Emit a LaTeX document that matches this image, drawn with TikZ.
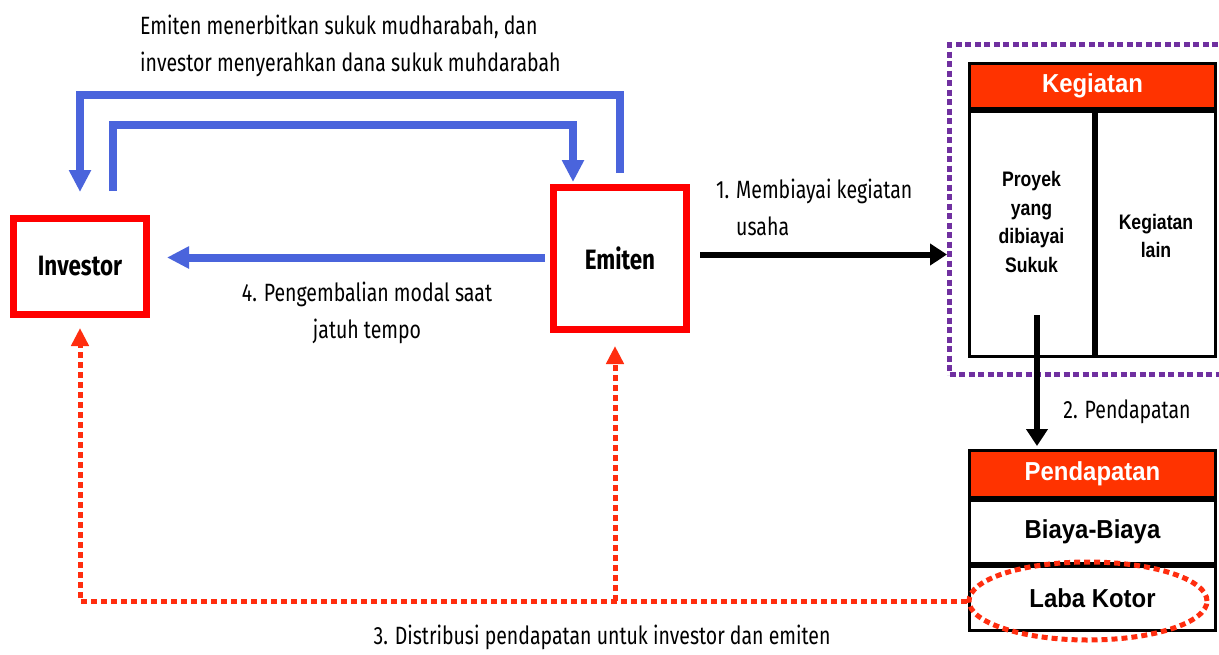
\documentclass[tikz,border=0pt]{standalone}
\usepackage{fontspec}
\setmainfont{Fira Sans}
\newfontfamily\labfont[FakeStretch=0.78]{Fira Sans}
\newfontfamily\actfont[FakeStretch=0.8]{Fira Sans}
\newfontfamily\tabfont[FakeStretch=0.92]{Liberation Sans}
\newfontfamily\celfont[FakeStretch=0.84]{Liberation Sans}
\usetikzlibrary{arrows.meta,shapes.geometric,calc}
\definecolor{bl}{RGB}{74,100,220}
\definecolor{rd}{RGB}{255,0,0}
\definecolor{hd}{RGB}{255,51,0}
\definecolor{rdot}{RGB}{255,45,15}
\definecolor{pu}{RGB}{112,48,160}
\begin{document}
\begin{tikzpicture}[x=1pt,y=-1pt,
  actor/.style={draw=rd,line width=7pt,fill=white,inner sep=0pt,
    font=\actfont\bfseries\fontsize{28}{32}\selectfont},
  lab/.style={inner sep=0pt,font=\labfont\fontsize{25}{37}\selectfont},
  bluearrow/.style={draw=bl,line width=8pt,-{Triangle[width=21pt,length=22pt]}},
  blackarrow/.style={draw=black,line width=6pt,-{Triangle[width=21pt,length=17pt]}},
  reddot/.style={draw=rdot,line width=5pt,dash pattern=on 6pt off 4pt},
  reddotarrow/.style={reddot,-{Triangle[width=17pt,length=18pt]}},
  cell/.style={draw=black,line width=3pt,fill=white,inner sep=0pt},
  head/.style={cell,fill=hd,text=white,font=\tabfont\bfseries\fontsize{26}{30}\selectfont},
  rowtext/.style={inner sep=0pt,font=\tabfont\bfseries\fontsize{26}{30}\selectfont},
  celltext/.style={inner sep=0pt,align=center,font=\celfont\bfseries\fontsize{21}{28.5}\selectfont}]
\useasboundingbox[fill=white] (0,0) rectangle (1219,654);

% actors
\node[actor,minimum width=133pt,minimum height=96pt] (inv) at (80,266.5) {Investor};
\node[actor,minimum width=133pt,minimum height=142pt] (emi) at (620,258.5) {Emiten};

% top label
\node[lab,align=left,anchor=west] (ltop) at (140,45.5)
  {Emiten menerbitkan sukuk mudharabah, dan\\investor menyerahkan dana sukuk muhdarabah};

% blue connectors
\draw[bluearrow] ([yshift=11pt]emi.north) -- ++(0,-78) -| ([yshift=23pt]inv.north);
\draw[bluearrow] ([xshift=33pt,yshift=24pt]inv.north) -- ++(0,-66) -| ([xshift=-47pt,yshift=2pt]emi.north);
\draw[bluearrow] ([xshift=-5pt,yshift=1pt]emi.west) -- ([xshift=17pt,yshift=1pt]emi.west -| inv.east);
\node[lab,align=center] (l4) at (367,313) {4. Pengembalian modal saat\\jatuh tempo};

% purple dotted frame
\node[draw=pu,line width=5pt,dash pattern=on 6pt off 3.5pt,minimum width=278pt,minimum height=330pt,inner sep=0pt] (pbox) at (1088.5,209.5) {};

% Kegiatan table
\node[head,minimum width=246pt,minimum height=45pt] (kh) at (1092.5,86) {Kegiatan};
\node[cell,minimum width=124pt,minimum height=245pt] (k1) at (1031.5,234) {};
\node[cell,minimum width=119pt,minimum height=245pt] (k2) at (1156,234) {};
\node[celltext] (k1t) at ([yshift=12pt]k1.center) {Proyek\\yang\\dibiayai\\Sukuk};
\node[celltext] (k2t) at ([yshift=-2pt]k2.center) {Kegiatan\\lain};

% black arrow 1
\draw[blackarrow] ([xshift=10pt,yshift=4pt]emi.east) -- ([yshift=4pt]emi.east -| pbox.west);
\node[lab,align=left,anchor=west] (l1) at (716,207) {1. Membiayai kegiatan\\\phantom{1. }usaha};

% Pendapatan table
\node[head,minimum width=246pt,minimum height=47pt] (ph) at (1092.5,474) {Pendapatan};
\node[cell,minimum width=246pt,minimum height=63pt] (pb) at (1092.5,532) {};
\node[cell,minimum width=246pt,minimum height=64pt] (pl) at (1092.5,598.5) {};
\node[rowtext] (pbt) at (pb.center) {Biaya-Biaya};
\node[rowtext] (plt) at (pl.center) {Laba Kotor};

% arrow 2
\coordinate (a2) at ([xshift=5.5pt,yshift=-81pt]k1.center);
\draw[blackarrow,shorten >=3pt] (a2) -- (a2 |- ph.north);
\node[lab] (l2) at (1127,412) {2. Pendapatan};

% red dotted ellipse and distribution
\node[ellipse,draw=rdot,line width=5pt,dash pattern=on 6pt off 4pt,minimum width=238pt,minimum height=78pt,inner sep=0pt] (ell) at (1088,601) {};
\draw[reddotarrow] (ell.west) -| ([yshift=-10pt]inv.south);
\draw[reddotarrow] ([xshift=-5pt]emi.south |- ell.west) -- ([xshift=-5pt,yshift=-13pt]emi.south);
\node[lab] (l3) at (602,637) {3. Distribusi pendapatan untuk investor dan emiten};
\end{tikzpicture}
\end{document}
